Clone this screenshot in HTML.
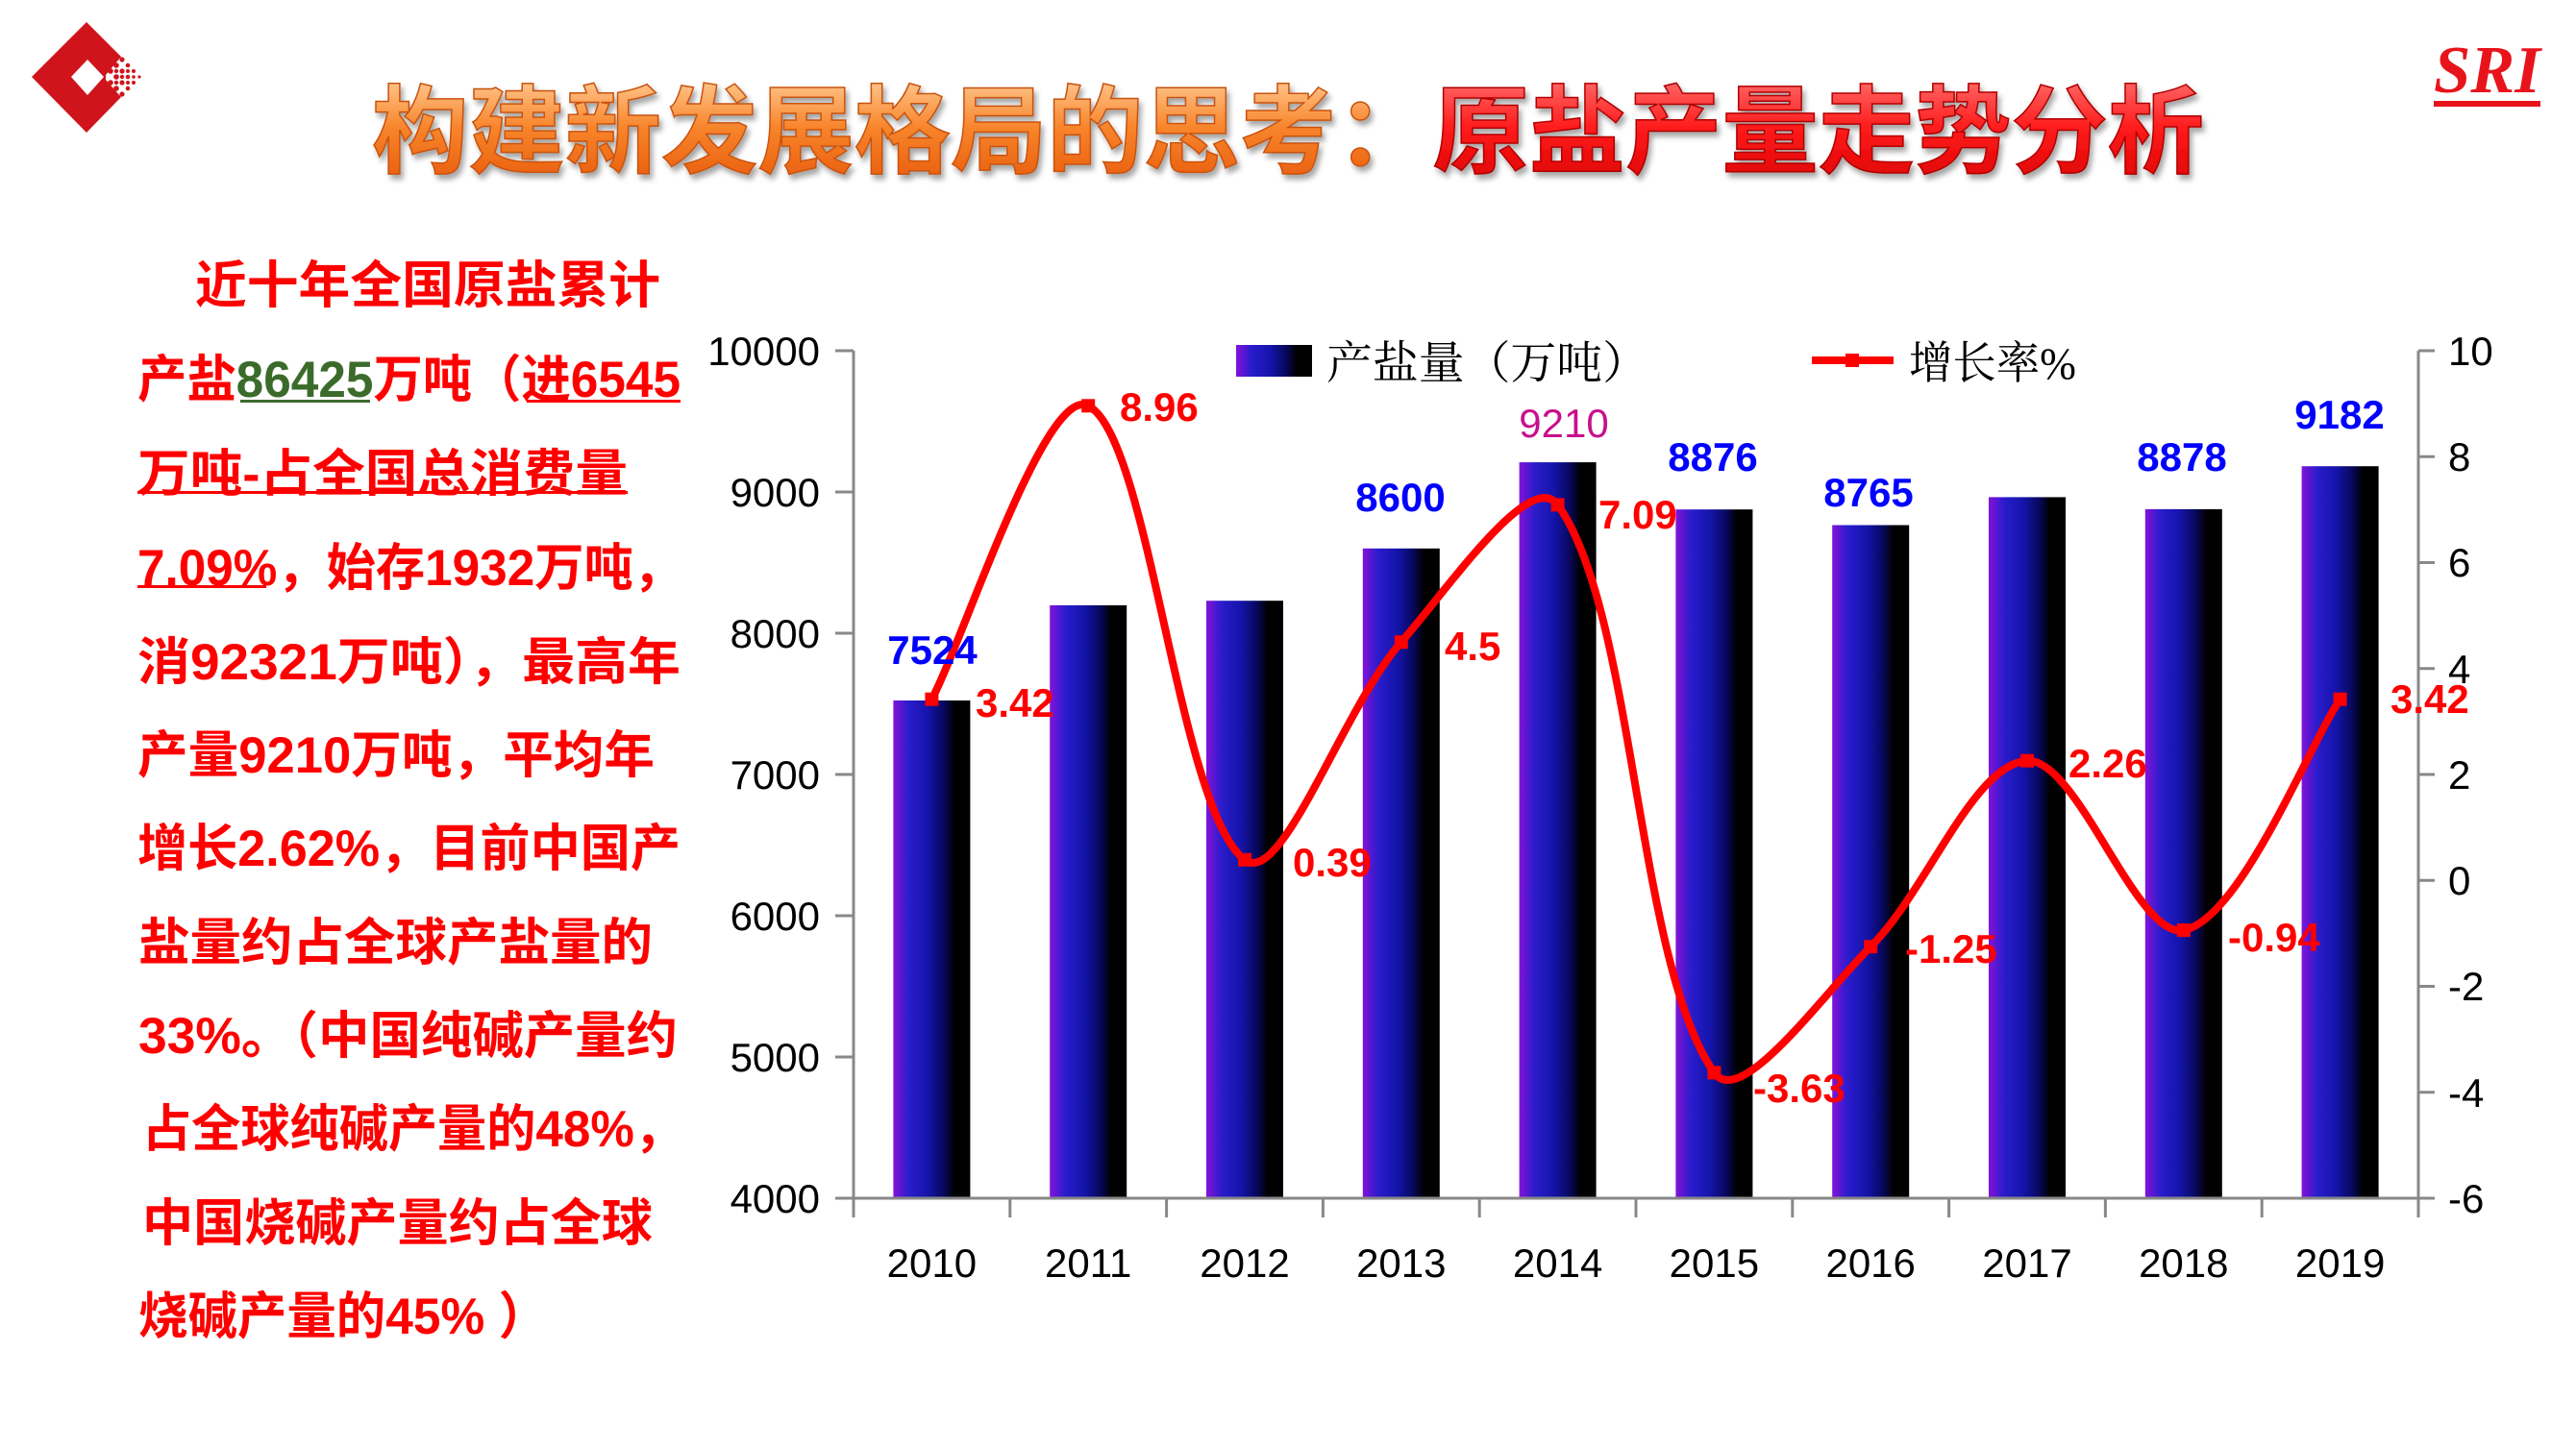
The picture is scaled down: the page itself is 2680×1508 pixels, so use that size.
<!DOCTYPE html>
<html><head><meta charset="utf-8"><style>
html,body{margin:0;padding:0;background:#fff;}
svg{display:block;}
</style></head><body>
<svg width="2680" height="1508" viewBox="0 0 2680 1508" xmlns="http://www.w3.org/2000/svg">
<defs>
<linearGradient id="bar" x1="0" y1="0" x2="1" y2="0">
<stop offset="0" stop-color="#8412d8"/>
<stop offset="0.2" stop-color="#2a1ccc"/>
<stop offset="0.45" stop-color="#1414aa"/>
<stop offset="0.65" stop-color="#080860"/>
<stop offset="0.8" stop-color="#000000"/>
<stop offset="1" stop-color="#000000"/>
</linearGradient>
<linearGradient id="og" x1="0" y1="0" x2="0" y2="1">
<stop offset="0" stop-color="#ffc890"/>
<stop offset="0.45" stop-color="#f8852c"/>
<stop offset="1" stop-color="#e85a0a"/>
</linearGradient>
<linearGradient id="rg" x1="0" y1="0" x2="0" y2="1">
<stop offset="0" stop-color="#ff6a6a"/>
<stop offset="0.45" stop-color="#ff1c1c"/>
<stop offset="1" stop-color="#dc0000"/>
</linearGradient>
<filter id="sh" x="-5%" y="-20%" width="110%" height="150%">
<feDropShadow dx="3" dy="5" stdDeviation="3" flood-color="#000" flood-opacity="0.35"/>
</filter>
</defs>

<!-- Logo -->
<path d="M90,23 L126,59 L110,78 L110,83 L126,101 L90,138 L33,80 Z" fill="#d0141c"/>
<polygon points="91,62 108,80 91,99 74,80" fill="#fff"/>
<g fill="#d0141c">
<circle cx="115" cy="74" r="2.8"/><circle cx="115" cy="86" r="2.8"/>
<circle cx="121" cy="68" r="2.8"/><circle cx="121" cy="80" r="2.8"/><circle cx="121" cy="92" r="2.8"/>
<circle cx="127" cy="62" r="2.6"/><circle cx="127" cy="74" r="2.6"/><circle cx="127" cy="86" r="2.6"/><circle cx="127" cy="98" r="2.6"/>
<circle cx="133" cy="68" r="2.3"/><circle cx="133" cy="80" r="2.3"/><circle cx="133" cy="92" r="2.3"/>
<circle cx="139" cy="74" r="2"/><circle cx="139" cy="86" r="2"/>
<circle cx="145" cy="80" r="1.6"/>
<circle cx="121" cy="74" r="2.2"/><circle cx="121" cy="86" r="2.2"/><circle cx="127" cy="80" r="2.2"/><circle cx="133" cy="74" r="2"/><circle cx="133" cy="86" r="2"/><circle cx="139" cy="80" r="1.8"/>
</g>

<!-- Title -->
<text x="387" y="172" font-family="'Liberation Sans','Noto Sans CJK SC',sans-serif" font-size="100" font-weight="bold" textLength="1906" lengthAdjust="spacingAndGlyphs" filter="url(#sh)"><tspan fill="url(#og)" stroke="#c9520e" stroke-width="1.5">构建新发展格局的思考：</tspan><tspan fill="url(#rg)" stroke="#b00000" stroke-width="1.5">原盐产量走势分析</tspan></text>

<!-- SRI -->
<text x="2532" y="96" font-family="'Liberation Serif',serif" font-size="70" font-weight="bold" font-style="italic" fill="#e8141c" textLength="111" lengthAdjust="spacingAndGlyphs">SRI</text>
<rect x="2532" y="105" width="111" height="6" fill="#e8141c"/>

<!-- Left text -->
<g font-family="'Liberation Sans','Noto Sans CJK SC',sans-serif" font-size="53" font-weight="bold" fill="#ff0000">
<text x="203" y="315" textLength="484" lengthAdjust="spacingAndGlyphs">近十年全国原盐累计</text>
<text x="143" y="413" textLength="565" lengthAdjust="spacingAndGlyphs">产盐<tspan fill="#3b6b2b">86425</tspan>万吨（进6545</text>
<text x="143" y="511" textLength="510" lengthAdjust="spacingAndGlyphs">万吨-占全国总消费量</text>
<text x="143" y="609" textLength="567" lengthAdjust="spacingAndGlyphs">7.09%，始存1932万吨，</text>
<text x="143" y="707" textLength="565" lengthAdjust="spacingAndGlyphs">消92321万吨），最高年</text>
<text x="143" y="804" textLength="538" lengthAdjust="spacingAndGlyphs">产量9210万吨，平均年</text>
<text x="143" y="901" textLength="565" lengthAdjust="spacingAndGlyphs">增长2.62%，目前中国产</text>
<text x="144" y="999" textLength="535" lengthAdjust="spacingAndGlyphs">盐量约占全球产盐量的</text>
<text x="144" y="1096" textLength="561" lengthAdjust="spacingAndGlyphs">33%。（中国纯碱产量约</text>
<text x="148" y="1193" textLength="563" lengthAdjust="spacingAndGlyphs">占全球纯碱产量的48%，</text>
<text x="148" y="1291" textLength="531" lengthAdjust="spacingAndGlyphs">中国烧碱产量约占全球</text>
<text x="144" y="1388" textLength="426" lengthAdjust="spacingAndGlyphs">烧碱产量的45% ）</text>
</g>
<rect x="250" y="416" width="135" height="3" fill="#3b6b2b"/>
<rect x="548" y="416" width="160" height="3" fill="#ff0000"/>
<rect x="143" y="511" width="510" height="3" fill="#ff0000"/>
<rect x="143" y="609" width="134" height="3" fill="#ff0000"/>

<!-- Bars -->
<g fill="url(#bar)">
<rect x="929.4" y="729.0" width="80" height="518.0"/>
<rect x="1092.2" y="629.9" width="80" height="617.1"/>
<rect x="1255.0" y="625.2" width="80" height="621.8"/>
<rect x="1417.8" y="570.8" width="80" height="676.2"/>
<rect x="1580.6" y="481.1" width="80" height="765.9"/>
<rect x="1743.4" y="530.2" width="80" height="716.8"/>
<rect x="1906.2" y="546.5" width="80" height="700.5"/>
<rect x="2069.0" y="517.4" width="80" height="729.6"/>
<rect x="2231.8" y="529.9" width="80" height="717.1"/>
<rect x="2394.6" y="485.2" width="80" height="761.8"/>
</g>

<!-- Axes -->
<g stroke="#888" stroke-width="3" fill="none">
<line x1="888" y1="365" x2="888" y2="1267"/>
<line x1="2516" y1="365" x2="2516" y2="1267"/>
<line x1="869" y1="1247" x2="2533" y2="1247"/>
<line x1="869" y1="365" x2="888" y2="365"/>
<line x1="869" y1="512" x2="888" y2="512"/>
<line x1="869" y1="659" x2="888" y2="659"/>
<line x1="869" y1="806" x2="888" y2="806"/>
<line x1="869" y1="953" x2="888" y2="953"/>
<line x1="869" y1="1100" x2="888" y2="1100"/>
<line x1="2516" y1="365" x2="2533" y2="365"/>
<line x1="2516" y1="475.25" x2="2533" y2="475.25"/>
<line x1="2516" y1="585.5" x2="2533" y2="585.5"/>
<line x1="2516" y1="695.75" x2="2533" y2="695.75"/>
<line x1="2516" y1="806" x2="2533" y2="806"/>
<line x1="2516" y1="916.25" x2="2533" y2="916.25"/>
<line x1="2516" y1="1026.5" x2="2533" y2="1026.5"/>
<line x1="2516" y1="1136.75" x2="2533" y2="1136.75"/>
<line x1="1050.8" y1="1247" x2="1050.8" y2="1267"/>
<line x1="1213.6" y1="1247" x2="1213.6" y2="1267"/>
<line x1="1376.4" y1="1247" x2="1376.4" y2="1267"/>
<line x1="1539.2" y1="1247" x2="1539.2" y2="1267"/>
<line x1="1702.0" y1="1247" x2="1702.0" y2="1267"/>
<line x1="1864.8" y1="1247" x2="1864.8" y2="1267"/>
<line x1="2027.6" y1="1247" x2="2027.6" y2="1267"/>
<line x1="2190.4" y1="1247" x2="2190.4" y2="1267"/>
<line x1="2353.2" y1="1247" x2="2353.2" y2="1267"/>
</g>

<!-- Axis labels -->
<g font-family="'Liberation Sans',sans-serif" font-size="42" fill="#000">
<g text-anchor="end">
<text x="853" y="380">10000</text>
<text x="853" y="527">9000</text>
<text x="853" y="674">8000</text>
<text x="853" y="821">7000</text>
<text x="853" y="968">6000</text>
<text x="853" y="1115">5000</text>
<text x="853" y="1262">4000</text>
</g>
<text x="2547" y="380">10</text>
<text x="2547" y="490">8</text>
<text x="2547" y="600">6</text>
<text x="2547" y="711">4</text>
<text x="2547" y="821">2</text>
<text x="2547" y="931">0</text>
<text x="2547" y="1041">-2</text>
<text x="2547" y="1152">-4</text>
<text x="2547" y="1262">-6</text>
<g text-anchor="middle">
<text x="969.4" y="1329">2010</text>
<text x="1132.2" y="1329">2011</text>
<text x="1295.0" y="1329">2012</text>
<text x="1457.8" y="1329">2013</text>
<text x="1620.6" y="1329">2014</text>
<text x="1783.4" y="1329">2015</text>
<text x="1946.2" y="1329">2016</text>
<text x="2109.0" y="1329">2017</text>
<text x="2271.8" y="1329">2018</text>
<text x="2434.6" y="1329">2019</text>
</g>
</g>

<!-- Line series -->
<path d="M969.4,727.7 C1002.0,666.6 1087.8,399.5 1132.2,422.3 C1196.3,455.2 1225.3,842.2 1295.0,894.8 C1333.9,924.2 1396.7,737.5 1457.8,668.2 C1505.2,614.4 1592.3,486.4 1620.6,525.4 C1700.8,635.8 1702.5,1002.1 1783.4,1116.4 C1811.0,1155.4 1897.1,1034.2 1946.2,985.2 C2005.6,925.9 2053.3,794.6 2109.0,791.7 C2161.8,788.9 2222.7,977.8 2271.8,968.1 C2331.2,956.4 2402.0,775.8 2434.6,727.7" fill="none" stroke="#ff0000" stroke-width="8" stroke-linejoin="round" stroke-linecap="round"/>
<g fill="#ff0000">
<rect x="962.4" y="720.7" width="14" height="14"/>
<rect x="1125.2" y="415.3" width="14" height="14"/>
<rect x="1288.0" y="887.8" width="14" height="14"/>
<rect x="1450.8" y="661.2" width="14" height="14"/>
<rect x="1613.6" y="518.4" width="14" height="14"/>
<rect x="1776.4" y="1109.4" width="14" height="14"/>
<rect x="1939.2" y="978.2" width="14" height="14"/>
<rect x="2102.0" y="784.7" width="14" height="14"/>
<rect x="2264.8" y="961.1" width="14" height="14"/>
<rect x="2427.6" y="720.7" width="14" height="14"/>
</g>

<!-- Line data labels -->
<g font-family="'Liberation Sans',sans-serif" font-size="42" font-weight="bold" fill="#ff0000">
<text x="1015" y="746">3.42</text>
<text x="1165" y="438">8.96</text>
<text x="1345" y="912">0.39</text>
<text x="1503" y="687">4.5</text>
<text x="1663" y="550">7.09</text>
<text x="1824" y="1147">-3.63</text>
<text x="1982" y="1002">-1.25</text>
<text x="2152" y="809">2.26</text>
<text x="2318" y="990">-0.94</text>
<text x="2487" y="742">3.42</text>
</g>

<!-- Bar data labels -->
<g font-family="'Liberation Sans',sans-serif" font-size="42" font-weight="bold" fill="#0000ff" text-anchor="middle">
<text x="970" y="691">7524</text>
<text x="1457" y="532">8600</text>
<text x="1782" y="490">8876</text>
<text x="1944" y="527">8765</text>
<text x="2270" y="490">8878</text>
<text x="2434" y="446">9182</text>
</g>
<text x="1627" y="455" font-family="'Liberation Sans',sans-serif" font-size="42" fill="#c8108c" text-anchor="middle">9210</text>

<!-- Legend -->
<rect x="1286" y="359" width="79" height="33" fill="url(#bar)"/>
<text x="1380" y="394" font-family="'Liberation Serif','Noto Serif CJK SC',serif" font-size="47" fill="#000" textLength="335" lengthAdjust="spacingAndGlyphs">产盐量（万吨）</text>
<line x1="1885" y1="375" x2="1970" y2="375" stroke="#ff0000" stroke-width="8"/>
<rect x="1920" y="368" width="14" height="14" fill="#ff0000"/>
<text x="1986" y="394" font-family="'Liberation Serif','Noto Serif CJK SC',serif" font-size="47" fill="#000" textLength="174" lengthAdjust="spacingAndGlyphs">增长率%</text>
</svg>
</body></html>
